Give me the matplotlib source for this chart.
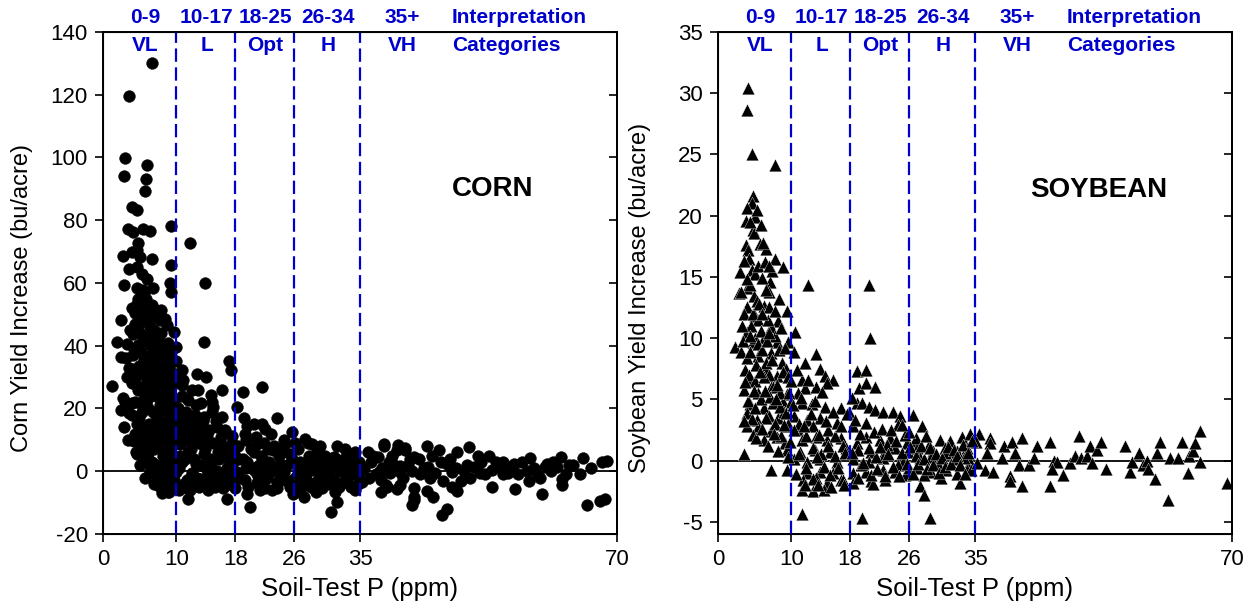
import matplotlib
matplotlib.use("Agg")
import matplotlib.pyplot as plt
import numpy as np

plt.rcParams["font.family"] = ["Liberation Sans", "DejaVu Sans"]
plt.rcParams["axes.unicode_minus"] = False

# ---- corn: soil-test P (ppm) vs yield increase (bu/acre) ----
corn_pts = [
    (6.6, 130.2), (3.5, 119.6), (3.0, 99.9), (2.8, 94.0), (6.0, 97.7), (5.9, 93.1),
    (5.7, 89.2), (3.9, 84.2), (4.6, 83.2), (3.4, 77.1), (4.1, 76.2), (5.5, 77.1),
    (6.4, 76.6), (9.3, 78.1), (11.9, 72.6), (4.8, 72.9), (4.6, 70.4), (3.9, 69.9),
    (2.7, 68.6), (6.6, 67.8), (5.1, 68.2), (3.6, 64.6), (4.6, 65.2), (9.2, 65.7),
    (5.3, 63.0), (6.0, 61.3), (13.9, 60.1), (2.8, 59.3), (4.6, 58.4), (6.8, 58.5),
    (9.1, 60.0), (9.2, 57.2), (5.6, 56.7), (5.4, 57.7), (4.6, 53.4), (6.0, 52.9),
    (4.4, 50.3), (5.5, 49.2), (6.8, 49.7), (2.5, 48.3), (7.8, 48.3), (4.8, 46.5),
    (6.4, 46.0), (8.7, 46.5), (9.6, 44.4), (4.1, 43.9), (5.7, 42.8), (7.3, 43.3),
    (1.9, 41.2), (3.2, 40.7), (4.8, 40.2), (6.4, 40.2), (8.2, 40.7), (10.0, 39.6),
    (13.8, 41.2), (2.5, 36.4), (4.1, 36.9), (6.0, 36.4), (7.6, 35.9), (9.2, 35.4),
    (17.1, 35.1), (3.9, 32.7), (5.3, 33.3), (6.8, 32.1), (8.4, 32.7), (10.7, 32.3),
    (12.8, 31.1), (14.0, 29.9), (17.4, 32.2), (4.4, 29.6), (6.0, 29.0), (7.8, 28.5),
    (9.6, 29.0), (10.7, 27.4), (1.2, 27.1), (16.2, 26.0), (21.6, 26.9), (19.0, 25.3),
    (12.1, 25.9), (4.8, 25.9), (6.8, 24.8), (8.7, 24.3), (14.7, 24.3), (2.7, 23.2),
    (6.0, 22.7), (11.6, 22.7), (13.4, 21.8), (3.9, 21.6), (7.8, 21.0), (15.0, 20.5),
    (18.3, 20.5), (2.5, 19.4), (5.3, 18.9), (9.6, 19.4), (3.9, 17.8), (7.3, 17.3),
    (11.6, 17.8), (13.7, 17.3), (16.2, 17.3), (23.7, 17.1), (6.6, 15.2), (8.7, 15.7),
    (10.7, 14.1), (12.9, 14.7), (15.5, 14.1), (19.6, 14.3), (21.6, 14.9), (22.1, 13.6),
    (6.0, 12.0), (7.8, 11.1), (9.6, 12.0), (12.1, 12.0), (14.1, 11.5), (17.6, 11.1),
    (25.7, 12.5), (27.5, 10.4), (28.4, 8.8), (3.9, 9.9), (4.8, 9.3), (6.4, 8.3),
    (10.5, 8.8), (13.2, 9.3), (15.7, 8.8), (19.4, 9.9), (21.0, 8.8), (22.5, 7.2),
    (24.8, 8.8), (31.8, 8.1), (36.1, 6.2), (4.6, 5.6), (6.0, 5.1), (8.7, 5.6),
    (11.6, 6.2), (13.8, 5.6), (16.0, 6.7), (17.8, 5.6), (20.5, 6.2), (23.2, 6.7),
    (25.5, 5.6), (29.1, 6.2), (31.4, 4.6), (33.4, 5.6), (34.3, 6.2), (6.6, 3.0),
    (8.7, 2.4), (10.7, 3.0), (12.7, 2.4), (15.0, 3.5), (17.3, 2.4), (19.6, 3.0),
    (21.8, 3.5), (24.1, 2.4), (26.8, 3.0), (28.6, 3.5), (30.5, 2.4), (32.7, 3.0),
    (34.8, 3.0), (6.4, -0.2), (8.4, 0.4), (10.0, -0.2), (12.1, -0.7), (14.1, 0.4),
    (15.9, -0.7), (18.2, -0.2), (20.5, 0.4), (22.5, -0.7), (24.6, -0.2), (26.6, -0.7),
    (28.6, 0.4), (30.7, -0.7), (32.7, -0.2), (34.8, -0.2), (8.2, -2.9), (9.6, -2.9),
    (11.4, -2.9), (13.2, -2.4), (15.0, -3.4), (17.3, -2.9), (19.3, -2.9), (20.9, -3.9),
    (23.7, -3.4), (25.9, -2.9), (28.2, -3.9), (30.2, -2.9), (32.5, -3.9), (35.2, -3.4),
    (7.8, -5.0), (9.0, -6.6), (11.4, -5.5), (14.3, -6.1), (18.0, -5.5), (19.6, -7.1),
    (21.4, -6.1), (23.7, -5.5), (25.9, -7.1), (27.3, -8.2), (29.8, -5.5), (31.6, -6.6),
    (34.3, -6.1), (11.6, -8.7), (16.9, -8.9), (31.8, -9.8), (20.0, -11.4), (31.1, -13.0),
    (7.5, -2.9), (6.6, 1.9),
    # dense cluster, VL range
    (5.0, 54.0), (5.8, 51.0), (6.3, 47.0), (7.0, 45.0), (7.5, 41.0), (8.0, 38.0),
    (5.2, 38.0), (6.5, 34.0), (7.0, 30.0), (8.5, 28.0), (9.0, 25.0), (5.5, 31.0),
    (6.2, 27.0), (7.2, 24.0), (8.0, 22.0), (9.4, 21.0), (6.8, 19.0), (7.7, 16.0),
    (8.5, 13.0), (9.0, 10.0), (5.0, 14.0), (5.7, 11.0), (4.3, 12.0), (7.0, 7.0),
    (8.2, 5.0), (9.5, 3.0), (3.0, 22.0), (3.5, 18.5), (4.2, 9.7), (4.5, 6.0),
    (5.0, 5.5), (6.5, 1.5), (6.8, -0.5), (7.5, -4.5), (8.6, -5.5), (8.8, -6.5),
    (3.7, 45.0), (4.0, 52.0), (4.3, 47.0), (4.7, 55.0), (5.1, 44.0), (5.4, 51.0),
    (5.9, 55.0), (6.2, 42.0), (6.7, 53.0), (7.1, 38.0), (7.4, 50.0), (7.9, 44.0),
    (8.3, 35.0), (8.8, 41.0), (9.3, 38.0), (9.8, 31.0), (3.6, 33.0), (4.5, 31.0),
    (5.0, 27.0), (5.6, 23.0), (6.1, 20.0), (6.5, 37.0), (7.4, 27.0), (7.9, 31.0),
    (8.8, 19.0), (9.2, 27.0), (9.8, 23.0), (4.0, 28.0), (4.4, 22.0), (4.9, 17.0),
    (5.4, 13.0), (5.8, 8.0), (6.3, 15.0), (6.9, 10.0), (7.3, 13.0), (7.9, 8.0),
    (8.4, 10.0), (8.9, 6.0), (9.4, 15.0), (9.9, 9.0), (5.1, 2.0), (5.7, -2.0),
    (6.1, 4.0), (7.2, 2.0), (7.8, -1.0), (8.9, 1.0), (9.3, -4.0), (9.7, 5.0),
    (6.9, -4.0), (8.0, -7.0), (4.6, 15.0), (3.3, 30.0), (3.1, 36.0), (2.9, 14.0),
    (3.4, 10.0), (5.3, 21.0), (7.6, 19.0), (8.1, 25.0), (9.0, 33.0), (9.6, 13.0),
    (4.2, 39.0), (5.6, 35.5), (6.9, 39.5), (8.6, 37.5), (9.9, 35.0), (4.9, 33.5),
    (7.3, 33.0), (8.9, 29.5), (5.8, 26.0), (7.6, 24.5), (9.4, 17.5), (6.4, 12.5),
    (8.1, 14.5), (9.2, 7.5), (7.5, 9.5), (6.2, 6.5), (8.5, 3.0), (9.1, -1.5),
    (5.5, 41.5), (6.6, 44.0), (7.9, 51.5), (8.5, 48.5),
    # L range
    (10.3, 1.0), (11.0, 10.0), (11.5, 15.0), (12.5, 18.0), (13.0, 9.0), (14.5, 4.0),
    (15.5, 0.0), (16.5, -2.0), (12.8, -2.0), (11.0, -4.0), (10.5, 5.0), (12.0, 7.0),
    (13.5, 13.0), (14.8, 19.0), (16.0, 11.0), (17.0, 7.0), (10.2, 20.0), (10.5, 13.0),
    (10.8, 24.0), (11.1, 4.0), (11.3, 19.0), (11.6, 10.0), (11.8, -2.0), (12.2, 15.0),
    (12.4, 4.0), (12.7, 21.0), (13.0, -5.0), (13.1, 11.0), (13.4, 2.0), (13.6, 16.0),
    (13.9, 7.0), (14.2, -3.0), (14.4, 13.0), (14.7, 1.0), (15.0, 9.0), (15.2, -5.0),
    (15.4, 16.0), (15.8, 4.0), (16.1, -3.0), (16.3, 8.0), (16.6, 13.0), (16.9, 1.0),
    (17.2, -4.0), (17.5, 9.0), (17.7, 3.0), (10.3, -6.0), (11.9, -6.0), (12.9, 26.0),
    (14.9, 22.0), (10.9, 29.0), (10.6, 17.0), (11.4, 12.5), (12.3, 9.5), (14.0, 9.5),
    (15.6, 6.0), (16.8, 4.5), (12.6, -4.0), (14.6, -1.5), (16.4, -5.5), (17.4, 0.5),
    # Opt and H ranges
    (18.5, 4.0), (19.5, 1.0), (21.0, -1.0), (22.0, 2.0), (23.0, 0.0), (24.0, 5.0),
    (25.0, -3.0), (26.5, 1.0), (27.5, -2.0), (28.5, 2.0), (29.5, -1.0), (30.5, 1.0),
    (31.5, -3.0), (32.5, 2.0), (33.5, -1.0), (34.5, 1.0), (18.4, 8.0), (18.7, -2.0),
    (19.0, 4.0), (19.3, 12.0), (19.7, -5.0), (20.1, 7.0), (20.4, 1.0), (20.8, 11.0),
    (21.1, -3.0), (21.5, 5.0), (21.9, 9.0), (22.3, -2.0), (22.6, 3.0), (23.0, -6.0),
    (23.3, 8.0), (23.6, 1.0), (24.0, -3.0), (24.4, 6.0), (24.7, 10.0), (25.1, 2.0),
    (25.4, -5.0), (25.8, 4.0), (26.2, -2.0), (26.5, 7.0), (26.9, -4.0), (27.2, 2.0),
    (27.6, -1.0), (28.0, 5.0), (28.3, -5.0), (28.7, 1.0), (29.1, -3.0), (29.4, 3.0),
    (29.8, -1.0), (30.2, 5.0), (30.6, -4.0), (31.0, 1.0), (31.3, -2.0), (31.7, 4.0),
    (32.1, -5.0), (32.4, 0.0), (32.8, 4.0), (33.2, -3.0), (33.6, 2.0), (34.0, -1.0),
    (34.4, 3.0), (34.7, -4.0), (19.2, 17.0), (20.6, 15.0), (22.9, 12.0), (26.1, 9.0),
    (27.9, 9.0), (29.6, 8.0), (33.0, 7.0), (21.3, 2.0), (24.3, -1.5), (27.0, -5.5),
    (29.0, -6.5), (30.0, 1.5), (33.8, -5.0), (22.0, -5.5),
    # VH tail
    (38.2, 8.0), (40.0, 6.8), (41.1, 6.8), (44.1, 8.0), (45.7, 6.8), (48.2, 6.2),
    (49.8, 7.6), (52.5, 4.9), (55.9, 2.4), (58.2, 4.3), (60.4, 2.4), (62.3, 4.4),
    (65.4, 4.3), (67.9, 3.0), (37.7, 0.2), (39.1, -0.7), (40.5, 1.8), (42.1, 0.2),
    (43.2, -1.0), (44.3, 1.3), (45.2, -0.7), (46.8, 2.4), (47.5, -0.1), (49.1, 0.2),
    (50.5, 1.3), (51.4, -0.7), (53.9, 1.3), (54.5, -1.0), (55.2, -0.7), (57.7, 0.2),
    (59.1, -0.7), (60.2, 1.3), (61.8, 1.3), (62.5, -2.6), (62.5, -4.5), (38.6, -4.5),
    (40.0, -5.7), (42.3, -8.2), (42.1, -10.7), (44.1, -6.3), (45.0, -8.2), (46.1, -13.8),
    (46.8, -11.9), (47.5, -5.1), (48.2, -6.3), (53.0, -5.1), (56.1, -5.7), (59.8, -7.2),
    (65.9, -10.7), (67.7, -9.4), (68.4, -8.8), (38.2, 8.7), (37.5, 4.6), (40.2, 8.5),
    (41.1, 7.4), (42.3, 4.6), (39.6, 1.9), (40.5, -0.2), (37.8, -2.9), (38.7, -5.0),
    (40.5, -4.5), (42.3, -5.5), (42.3, -9.3), (37.8, -6.6), (36.5, 3.0), (38.0, 1.0),
    (39.0, 3.0), (41.5, 2.0), (43.0, 4.0), (44.5, -2.0), (46.0, 3.0), (48.0, 1.0),
    (50.0, -2.0), (51.5, 3.0), (53.0, 0.5), (54.5, 3.0), (56.5, -1.0), (58.0, -3.0),
    (61.0, 0.0), (63.0, -1.0), (64.0, 2.0), (35.6, 1.0), (36.2, -2.0), (36.8, 5.0),
    (37.2, -1.0), (39.3, 5.0), (40.8, -2.0), (41.8, 4.0), (43.7, 1.0), (44.8, 5.0),
    (46.3, -3.0), (47.2, 4.0), (48.8, -3.0), (49.5, 2.0), (51.0, 5.0), (52.0, -1.0),
    (53.5, 3.0), (55.5, 1.0), (57.0, 3.0), (58.7, 1.0), (59.5, -2.0), (61.3, 3.0),
    (63.5, 2.0), (65.0, -1.0), (66.5, 1.0), (68.6, 3.2),
]

# ---- soybean ----
soy_pts = [
    (4.1, 30.4), (3.9, 28.6), (4.6, 25.0), (7.8, 24.1), (4.8, 21.6), (4.6, 21.0),
    (3.9, 20.6), (5.0, 19.9), (3.8, 19.6), (4.8, 18.8), (4.9, 18.6), (3.8, 17.6),
    (5.7, 17.7), (6.6, 17.3), (4.1, 17.2), (7.8, 16.5), (4.2, 16.5), (8.9, 15.8),
    (3.0, 15.4), (4.6, 15.6), (5.0, 15.2), (7.1, 14.6), (12.3, 14.3), (20.5, 14.3),
    (3.9, 14.1), (2.9, 13.7), (7.0, 13.8), (4.9, 13.4), (3.2, 13.8), (4.3, 14.3),
    (6.6, 13.9), (5.3, 13.0), (6.2, 12.6), (6.9, 12.5), (5.1, 11.8), (5.5, 11.5),
    (8.2, 11.4), (7.2, 10.9), (3.9, 10.5), (10.5, 10.5), (20.7, 10.0), (2.3, 9.3),
    (4.7, 9.7), (6.2, 10.0), (8.0, 9.7), (9.6, 9.7), (3.2, 8.9), (10.4, 8.9),
    (3.9, 8.4), (5.5, 8.5), (7.2, 8.8), (13.4, 8.7), (8.7, 8.0), (11.9, 8.0),
    (3.7, 7.4), (6.6, 7.5), (13.9, 7.5), (18.9, 7.3), (20.2, 7.4), (4.3, 6.6),
    (8.0, 6.9), (11.4, 6.6), (14.6, 6.9), (15.7, 6.6), (19.2, 5.9), (20.2, 6.3),
    (21.4, 6.0), (11.9, 5.9), (13.3, 6.0), (14.8, 6.3), (3.6, 5.8), (5.5, 5.5),
    (7.2, 6.0), (9.4, 5.4), (10.9, 5.5), (4.4, 4.6), (6.2, 4.3), (7.5, 4.7),
    (8.9, 4.8), (11.4, 4.7), (12.8, 4.6), (14.6, 4.4), (16.8, 4.3), (17.9, 4.0),
    (18.9, 4.7), (19.6, 4.7), (20.5, 4.4), (21.4, 4.1), (22.5, 4.0), (23.9, 4.0),
    (24.8, 3.6), (26.6, 3.7), (3.9, 3.9), (5.3, 3.3), (6.9, 3.6), (8.2, 3.5),
    (10.4, 3.6), (12.1, 3.3), (13.9, 3.5), (3.9, 2.8), (5.5, 2.7), (7.2, 2.4),
    (9.4, 2.8), (10.9, 2.5), (13.0, 2.8), (16.2, 3.1), (18.4, 2.8), (24.5, 2.9),
    (27.8, 2.8), (4.8, 2.1), (6.2, 1.7), (8.0, 1.9), (9.1, 1.4), (11.4, 1.7),
    (13.4, 1.9), (14.8, 1.7), (16.8, 1.8), (18.9, 1.4), (20.2, 1.9), (22.1, 1.7),
    (23.4, 1.8), (25.7, 1.4), (26.9, 1.6), (28.7, 1.3), (30.2, 1.7), (31.6, 1.6),
    (33.2, 1.9), (34.3, 2.2), (35.5, 2.2), (9.4, 0.9), (11.2, 0.7), (13.2, 0.9),
    (15.2, 0.7), (17.4, 1.0), (19.1, 0.9), (20.9, 0.7), (22.7, 0.8), (24.1, 1.0),
    (25.9, 0.7), (27.1, 1.0), (29.3, 0.8), (30.9, 1.0), (32.5, 0.8), (33.9, 1.0),
    (3.6, 0.5), (10.4, 0.1), (12.1, -0.1), (13.9, 0.1), (16.2, -0.1), (18.4, 0.1),
    (20.5, -0.1), (22.5, 0.2), (25.2, -0.1), (27.5, 0.2), (29.8, -0.1), (32.0, 0.1),
    (34.3, -0.1), (7.2, -0.75), (9.4, -0.75), (12.1, -1.0), (13.9, -0.9), (15.7, -1.0),
    (18.4, -1.0), (20.2, -0.9), (22.5, -0.75), (24.1, -0.9), (27.1, -0.6), (29.0, -0.9),
    (31.1, -0.75), (33.9, -0.75), (11.6, -1.6), (13.4, -1.4), (14.8, -1.8), (16.8, -1.6),
    (18.4, -1.8), (20.9, -1.7), (22.7, -1.6), (25.5, -1.2), (27.5, -2.1), (30.4, -1.4),
    (32.9, -1.8), (11.4, -2.4), (13.0, -2.5), (14.4, -2.4), (21.1, -1.9), (28.0, -2.8),
    (11.4, -4.4), (19.6, -4.7), (28.9, -4.7),
    # dense cluster, VL range
    (4.0, 12.5), (4.5, 11.0), (5.0, 10.0), (5.5, 9.5), (6.0, 9.0), (6.5, 8.0),
    (7.0, 7.0), (7.5, 6.0), (8.5, 5.5), (9.0, 4.0), (9.5, 3.0), (4.2, 7.0),
    (5.0, 6.5), (5.8, 5.0), (6.5, 3.5), (7.8, 3.0), (8.6, 2.0), (9.8, 1.5),
    (3.5, 12.0), (3.3, 11.0), (6.8, 11.5), (7.8, 10.2), (8.3, 9.0), (9.2, 7.5),
    (9.7, 5.5), (3.4, 9.8), (3.7, 6.4), (4.1, 4.9), (4.4, 8.9), (4.7, 12.0),
    (5.2, 7.8), (5.6, 12.8), (5.9, 10.6), (6.3, 6.8), (6.7, 9.8), (7.1, 5.2),
    (7.4, 8.2), (7.7, 12.2), (8.1, 6.2), (8.4, 4.4), (8.8, 7.2), (9.1, 9.2),
    (9.5, 6.8), (9.9, 4.8), (4.6, 3.4), (5.2, 1.8), (6.0, 2.6), (6.8, 1.2),
    (7.6, 2.2), (8.2, 0.8), (9.0, 2.9), (9.6, 0.3), (3.6, 3.2), (4.9, 5.7),
    (6.4, 5.7), (5.4, 15.9), (6.0, 14.9), (6.4, 16.2), (5.9, 19.2), (4.4, 19.5),
    (3.5, 16.3), (7.3, 15.5), (8.3, 13.2), (9.4, 12.2), (6.1, 17.8), (5.3, 20.5),
    (4.3, 10.2), (5.7, 7.2), (7.0, 10.4), (8.6, 10.8), (6.0, 12.0), (5.0, 4.3),
    (7.9, 5.0), (9.3, 3.9), (4.0, 14.8), (6.9, 15.9),
    # L range
    (10.2, 4.5), (11.0, 3.0), (12.0, 2.0), (13.0, 1.0), (14.0, 0.5), (15.0, 2.5),
    (16.0, 0.4), (17.0, 1.2), (10.0, 6.5), (10.3, 2.5), (10.7, 7.4), (11.0, 0.5),
    (11.3, 5.1), (11.7, 2.8), (12.0, -0.6), (12.3, 6.6), (12.6, 3.8), (12.9, -1.5),
    (13.2, 4.9), (13.5, 0.3), (13.8, 2.1), (14.1, 5.6), (14.4, -0.5), (14.7, 3.2),
    (15.0, 1.2), (15.3, -1.2), (15.6, 4.0), (16.0, 2.0), (16.3, -0.6), (16.7, 2.8),
    (17.0, -1.6), (17.3, 0.6), (17.6, 3.8), (10.6, -1.1), (11.8, -2.0), (13.6, -2.0),
    (15.4, -2.2), (17.2, -2.0),
    # Opt and H ranges
    (19.5, -0.4), (21.5, 0.3), (23.0, 1.3), (24.5, -0.4), (26.0, -0.6), (27.0, 1.8),
    (28.0, -1.2), (29.0, 0.3), (30.0, -0.3), (31.0, 0.6), (32.5, -1.1), (33.5, 0.2),
    (34.5, -0.8), (35.2, 1.5), (35.3, -0.2), (18.3, 0.6), (18.7, 3.3), (19.0, -1.4),
    (19.4, 2.2), (19.8, -0.2), (20.1, 3.1), (20.5, 1.0), (20.9, -1.2), (21.2, 2.3),
    (21.6, -0.7), (22.0, 1.1), (22.4, 2.6), (22.8, -1.3), (23.1, 0.5), (23.5, 2.5),
    (23.9, -0.5), (24.3, 1.6), (24.6, -1.3), (25.0, 0.6), (25.4, 2.1), (25.8, -0.3),
    (26.2, 1.1), (26.5, -1.1), (26.9, 0.4), (27.3, -0.3), (27.7, 1.2), (28.1, 0.1),
    (28.5, -0.7), (28.9, 1.0), (29.3, -0.4), (29.7, 0.5), (30.1, -1.0), (30.5, 0.2),
    (30.9, -0.5), (31.3, 1.1), (31.7, -0.3), (32.1, 0.9), (32.5, 0.4), (32.9, -0.4),
    (33.3, 1.3), (33.7, -1.1), (34.1, 0.6), (34.6, 1.6), (26.0, 2.3), (28.3, 2.0),
    (25.1, 2.9), (18.2, 5.1),
    # VH tail
    (37.1, 1.83), (37.0, 1.4), (36.7, 0.6), (36.4, -0.75), (37.5, -0.9), (39.8, -1.3),
    (39.8, -1.7), (41.4, -2.1), (38.9, 1.15), (40.0, 1.55), (41.4, 1.8), (40.5, 0.6),
    (41.0, -0.35), (38.7, 0.2), (42.3, -0.4), (43.0, 0.2), (43.4, 1.15), (45.2, 1.55),
    (45.2, -2.1), (45.7, 0.0), (46.1, -0.15), (45.5, -0.7), (47.0, -1.2), (47.9, -0.2),
    (48.6, 0.35), (49.1, 2.0), (49.4, 0.2), (50.2, 0.35), (50.7, 1.15), (50.9, -0.2),
    (51.6, 0.9), (52.1, 1.55), (52.8, -0.7), (55.4, 1.15), (56.1, -0.9), (56.4, -0.15),
    (57.3, 0.6), (57.9, -0.35), (58.4, 0.0), (58.6, -0.7), (59.5, -1.5), (59.8, 0.6),
    (60.2, 1.55), (61.3, -3.2), (61.6, 0.2), (62.7, 0.2), (63.2, 1.55), (64.0, -1.0),
    (64.2, 0.35), (64.7, 0.75), (64.9, 1.4), (65.6, 2.4), (65.6, -0.15), (69.3, -1.85),
]

corn_p = np.array([p[0] for p in corn_pts])
corn_inc = np.array([p[1] for p in corn_pts])
soy_p = np.array([p[0] for p in soy_pts])
soy_inc = np.array([p[1] for p in soy_pts])

x_ticks = [0, 10, 18, 26, 35, 70]
boundaries = [10, 18, 26, 35]
cat_ranges = ["0-9", "10-17", "18-25", "26-34", "35+"]
cat_names = ["VL", "L", "Opt", "H", "VH"]
cat_x = [5.7, 14.1, 22.1, 30.7, 40.8]

BLUE = "#0000CC"

fig = plt.figure(figsize=(12.55, 6.13), dpi=100)
ax_c = fig.add_axes([0.0821, 0.1289, 0.4096, 0.8189])
ax_s = fig.add_axes([0.5721, 0.1289, 0.4096, 0.8189])


def style_panel(ax, ylim, yticks, ylabel, crop, crop_xy, ylab_x):
    ax.set_xlim(0, 70)
    ax.set_ylim(*ylim)
    ax.axhline(0, color="black", lw=1.3, zorder=1)
    for b in boundaries:
        ax.axvline(b, color=BLUE, lw=1.6, dashes=(6, 2.5), zorder=3)
    ax.set_xticks(x_ticks)
    ax.set_yticks(yticks)
    ax.tick_params(axis="both", direction="out", length=6, width=1.2,
                   labelsize=16, pad=5)
    for sp in ax.spines.values():
        sp.set_linewidth(1.4)

    # inward ticks on the right spine
    axr = ax.twinx()
    axr.set_ylim(*ylim)
    axr.set_yticks(yticks)
    axr.tick_params(axis="y", direction="in", length=6, width=1.2, labelright=False)
    axr.spines["right"].set_linewidth(1.4)

    ax.set_ylabel(ylabel, fontsize=17)
    ax.yaxis.set_label_coords(ylab_x, 0.47)
    ax.set_xlabel("Soil-Test P (ppm)", fontsize=18.5)
    ax.xaxis.set_label_coords(0.5, -0.085)

    tr = ax.get_xaxis_transform()
    for cx, rng, nm in zip(cat_x, cat_ranges, cat_names):
        ax.text(cx, 1.028, rng, transform=tr, ha="center", va="center",
                fontsize=15, fontweight="bold", color=BLUE, clip_on=False)
        ax.text(cx, 0.974, nm, transform=tr, ha="center", va="center",
                fontsize=15, fontweight="bold", color=BLUE)
    ax.text(47.5, 1.028, "Interpretation", transform=tr, ha="left", va="center",
            fontsize=15, fontweight="bold", color=BLUE, clip_on=False)
    ax.text(47.5, 0.974, "Categories", transform=tr, ha="left", va="center",
            fontsize=15, fontweight="bold", color=BLUE)

    ax.text(crop_xy[0], crop_xy[1], crop, ha="center", va="center",
            fontsize=20, fontweight="bold")


style_panel(ax_c, (-20, 140), np.arange(-20, 141, 20),
            "Corn Yield Increase (bu/acre)", "CORN", (53.1, 90), -0.136)
style_panel(ax_s, (-6, 35), np.arange(-5, 36, 5),
            "Soybean Yield Increase (bu/acre)", "SOYBEAN", (51.8, 22.1), -0.130)

ax_c.scatter(corn_p, corn_inc, s=72, marker="o", color="black",
             edgecolors="black", linewidths=0.3, zorder=2)
ax_s.scatter(soy_p, soy_inc, s=84, marker="^", color="black",
             edgecolors="white", linewidths=0.25, zorder=2)

fig.savefig("out.png", dpi=100)
